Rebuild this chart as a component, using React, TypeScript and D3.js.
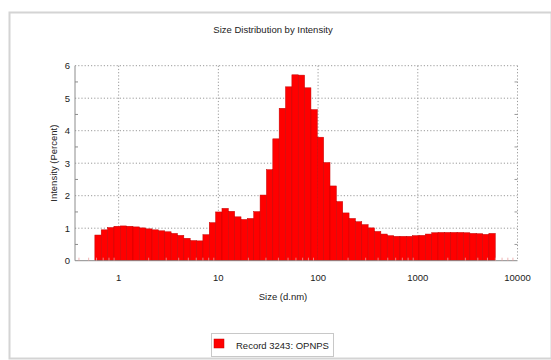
import React from "react";
import * as d3 from "d3";

// Size classes (d.nm) and intensity (%) per class
const sizes: number[] = [
  0.6213, 0.7195, 0.8332, 0.9649, 1.117, 1.294, 1.499, 1.736, 2.01, 2.328,
  2.696, 3.122, 3.615, 4.187, 4.849, 5.615, 6.503, 7.531, 8.721, 10.1,
  11.7, 13.54, 15.69, 18.17, 21.04, 24.36, 28.21, 32.67, 37.84, 43.82,
  50.75, 58.77, 68.06, 78.82, 91.28, 105.7, 122.4, 141.8, 164.2, 190.1,
  220.2, 255, 295.3, 342, 396.1, 458.7, 531.2, 615.1, 712.4, 825,
  955.4, 1106, 1281, 1484, 1718, 1990, 2305, 2669, 3091, 3580,
  4145, 4801, 5560,
];
const intensity: number[] = [
  0.79, 0.95, 1.02, 1.06, 1.07, 1.06, 1.04, 1.01, 0.98, 0.95,
  0.92, 0.89, 0.84, 0.78, 0.69, 0.62, 0.61, 0.8, 1.17, 1.5,
  1.61, 1.52, 1.35, 1.27, 1.3, 1.51, 2.02, 2.8, 3.75, 4.69,
  5.35, 5.72, 5.71, 5.32, 4.65, 3.8, 3.02, 2.3, 1.82, 1.47,
  1.3, 1.2, 1.11, 1.01, 0.9, 0.82, 0.77, 0.75, 0.75, 0.75,
  0.77, 0.78, 0.82, 0.86, 0.87, 0.87, 0.87, 0.87, 0.86, 0.84,
  0.83, 0.81, 0.84,
];
const xTicks: number[] = [1, 10, 100, 1000, 10000];
const yTicks: number[] = [0, 1, 2, 3, 4, 5, 6];

const title = "Size Distribution by Intensity";
const xLabel = "Size (d.nm)";
const yLabel = "Intensity (Percent)";
const seriesName = "Record 3243: OPNPS";

const W = 551;
const H = 360;
const left = 75;
const right = 517.5;
const top = 65.7;
const bottom = 260.7;

const font = "'Liberation Sans', Arial, sans-serif";
const fs = 9.5;

export default function App() {
  const x = d3.scaleLog().domain([0.365, 10000]).range([left, right]);
  const y = d3.scaleLinear().domain([0, 6]).range([bottom, top]);

  // bar edges: geometric midpoints between neighbouring size classes
  const edges: number[] = [];
  for (let i = 0; i <= sizes.length; i++) {
    if (i === 0) edges.push(sizes[0] / Math.sqrt(sizes[1] / sizes[0]));
    else if (i === sizes.length)
      edges.push(sizes[i - 1] * Math.sqrt(sizes[i - 1] / sizes[i - 2]));
    else edges.push(Math.sqrt(sizes[i - 1] * sizes[i]));
  }

  const minorX: number[] = [];
  for (let p = -1; p < 4; p++) {
    for (let m = 2; m <= 9; m++) {
      const v = m * Math.pow(10, p);
      if (v > 0.365 && v < 10000) minorX.push(v);
    }
  }
  const minorY = d3.range(0.5, 6, 1);

  const grid = "#9a9a9a";

  return (
    <svg
      width={W}
      height={H}
      style={{ position: "absolute", left: 0, top: 0, background: "#fff" }}
      fontFamily={font}
    >
      {/* panel frame */}
      <rect x={9.5} y={12.5} width={W - 9} height={H - 14} fill="#fff" stroke="#d4d4d4" strokeWidth={2} />

      <text x={273} y={33} textAnchor="middle" fontSize={fs} fill="#222">
        {title}
      </text>

      {/* dotted grid */}
      {yTicks.filter((t) => t > 0).map((t) => (
        <line key={"gy" + t} x1={left} x2={right} y1={y(t)} y2={y(t)} stroke={grid} strokeWidth={1} strokeDasharray="1.2,2" />
      ))}
      {xTicks.map((t) => (
        <line key={"gx" + t} x1={x(t)} x2={x(t)} y1={top} y2={bottom} stroke={grid} strokeWidth={1} strokeDasharray="1.2,2" />
      ))}

      {/* histogram */}
      {sizes.map((s, i) => (
        <rect
          key={"b" + i}
          x={x(edges[i])}
          y={y(intensity[i])}
          width={x(edges[i + 1]) - x(edges[i])}
          height={y(0) - y(intensity[i])}
          fill="#ff0000"
          stroke="#c40000"
          strokeWidth={0.5}
        />
      ))}

      {/* axes */}
      <line x1={left} x2={left} y1={top} y2={bottom} stroke="#8c8c8c" strokeWidth={1} />
      <line x1={left} x2={right} y1={bottom} y2={bottom} stroke="#8c8c8c" strokeWidth={1} />
      {minorY.map((t) => (
        <line key={"my" + t} x1={left} x2={left + 3} y1={y(t)} y2={y(t)} stroke="#8c8c8c" />
      ))}
      {minorY.map((t) => (
        <line key={"myr" + t} x1={right - 3} x2={right} y1={y(t)} y2={y(t)} stroke={grid} />
      ))}
      {minorX.map((t) => (
        <line key={"mx" + t} x1={x(t)} x2={x(t)} y1={bottom} y2={bottom - 3} stroke="#e8a0a0" strokeWidth={0.8} />
      ))}

      {yTicks.map((t) => (
        <text key={"ty" + t} x={70} y={y(t) + 3.3} textAnchor="end" fontSize={fs} fill="#222">
          {t}
        </text>
      ))}
      {xTicks.map((t) => (
        <text key={"tx" + t} x={x(t)} y={280.5} textAnchor="middle" fontSize={fs} fill="#222">
          {d3.format("d")(t)}
        </text>
      ))}

      <text x={283} y={299.5} textAnchor="middle" fontSize={fs} fill="#222">
        {xLabel}
      </text>
      <text
        transform={`translate(57,${(top + bottom) / 2}) rotate(-90)`}
        textAnchor="middle"
        fontSize={fs}
        fill="#222"
      >
        {yLabel}
      </text>

      {/* legend */}
      <rect x={211.5} y={333.5} width={122} height={23} fill="#fff" stroke="#c8c8c8" strokeWidth={1} />
      <rect x={214} y={339} width={10} height={9} fill="#ff0000" stroke="#c40000" strokeWidth={0.5} />
      <text x={236} y={348.5} fontSize={fs} fill="#222">
        {seriesName}
      </text>
    </svg>
  );
}
